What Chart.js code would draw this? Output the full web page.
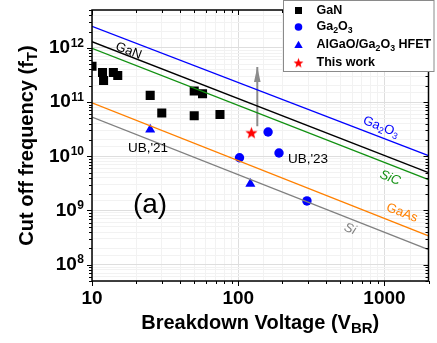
<!DOCTYPE html>
<html>
<head>
<meta charset="utf-8">
<script src="https://cdn.jsdelivr.net/npm/chart.js@4"></script>
<style>html,body{margin:0;padding:0;background:#fff;}</style>
</head>
<body>
<canvas id="fom" width="437" height="343"></canvas>
<script>
// breakdown voltage (V) / cut off frequency (Hz)
var gan_v=[10,11.8,12,14,15,25,30,50,57,50,75];
var gan_f=[4.6e11,3.5e11,2.5e11,3.5e11,3.1e11,1.33e11,6.3e10,1.6e11,1.43e11,5.6e10,5.9e10];
var ga2o3_v=[160,102,190,295];
var ga2o3_f=[2.8e10,9.4e9,1.15e10,1.5e9];
var hfet_v=[25,121];
var hfet_f=[3.1e10,3.1e9];
var this_v=[123];
var this_f=[2.7e10];
var arrow_v=[135,135];
var arrow_f=[3.6e10,4.45e11];
// material limit lines, values at 10 V and 2000 V
var limit_v=[10,2000];
var lim_ga2o3=[2.5e12,1.03e10];
var lim_gan=[1.3e12,5e9];
var lim_sic=[9.8e11,3.7e9];
var lim_gaas=[9.7e10,3.4e8];
var lim_si=[5.3e10,1.9e8];
var x_ticks=[10,100,1000];
var y_exps=[8,9,10,11,12];

var FAM='"Liberation Sans", Arial, Helvetica, sans-serif';

function pts(xs,ys){ return xs.map(function(x,i){ return {x:x,y:ys[i]}; }); }

function makeStar(r){
  var c=document.createElement('canvas');
  var s=Math.ceil(r*2+2);
  c.width=s; c.height=s;
  var g=c.getContext('2d');
  g.fillStyle='#ff0000';
  g.beginPath();
  for(var i=0;i<10;i++){
    var rr=(i%2)?r*0.42:r;
    var a=-Math.PI/2+i*Math.PI/5;
    g.lineTo(s/2+rr*Math.cos(a), s/2+rr*Math.sin(a)+r*0.05);
  }
  g.closePath(); g.fill();
  return c;
}
var star_big=makeStar(6.4);
var star_small=makeStar(5.2);

// segs: [text, kind] kind: n normal, b subscript, p superscript
function rich(ctx,segs,x,y,size,style,align,subRatio){
  subRatio=subRatio||0.7;
  function f(k){ return style+' '+(k=='n'?size:size*subRatio)+'px '+FAM; }
  var w=0;
  segs.forEach(function(s){ ctx.font=f(s[1]); w+=ctx.measureText(s[0]).width; });
  var cx= align=='center' ? x-w/2 : (align=='right' ? x-w : x);
  ctx.textAlign='left';
  ctx.textBaseline='middle';
  segs.forEach(function(s){
    ctx.font=f(s[1]);
    var dy= s[1]=='b' ? size*0.28 : (s[1]=='p' ? -size*0.26 : 0);
    ctx.fillText(s[0],cx,y+dy);
    cx+=ctx.measureText(s[0]).width;
  });
}

function isDecade(v){ var e=Math.log10(v); return Math.abs(e-Math.round(e))<1e-6; }
function gridColor(c){
  if(!c.tick) return 'transparent';
  return isDecade(c.tick.value) ? '#dedede' : '#f2f2f2';
}

function lineSet(vals,color){
  return {data:pts(limit_v,vals),showLine:true,borderColor:color,borderWidth:1.4,pointRadius:0,clip:0};
}

var decor={
  id:'decor',
  afterDatasetsDraw:function(chart){
    var ctx=chart.ctx, xs=chart.scales.x, ys=chart.scales.y;
    ctx.save();
    // arrow head
    var tx=xs.getPixelForValue(arrow_v[1]), ty=ys.getPixelForValue(arrow_f[1]);
    ctx.fillStyle='#8c8c8c';
    ctx.beginPath(); ctx.moveTo(tx,ty); ctx.lineTo(tx-3.3,ty+15); ctx.lineTo(tx+3.3,ty+15); ctx.closePath(); ctx.fill();

    // line labels, rotated along the lines
    var ang=Math.atan2(ys.getPixelForValue(lim_gan[1])-ys.getPixelForValue(lim_gan[0]),
                       xs.getPixelForValue(limit_v[1])-xs.getPixelForValue(limit_v[0]));
    function lab(segs,x,y,color,style){
      ctx.save(); ctx.translate(x,y); ctx.rotate(ang); ctx.fillStyle=color;
      rich(ctx,segs,0,0,13,style,'center');
      ctx.restore();
    }
    lab([['GaN','n']],128.5,51,'#000','normal');
    lab([['Ga','n'],['2','b'],['O','n'],['3','b']],381,127,'#0000ff','normal');
    lab([['SiC','n']],390,178,'#119111','italic');
    lab([['GaAs','n']],402,213,'#ff8000','normal');
    lab([['Si','n']],350,229,'#808080','italic');

    ctx.fillStyle='#000';
    rich(ctx,[["UB,'21",'n']],148,148,13.5,'normal','center');
    rich(ctx,[["UB,'23",'n']],308,159,13.5,'normal','center');
    rich(ctx,[['(a)','n']],150,205,28,'normal','center');
    ctx.restore();
  },
  afterDraw:function(chart){
    var ctx=chart.ctx, a=chart.chartArea, xs=chart.scales.x, ys=chart.scales.y;
    ctx.save();
    // frame
    ctx.strokeStyle='#000'; ctx.lineWidth=1.5;
    ctx.strokeRect(a.left,a.top,a.right-a.left,a.bottom-a.top);
    ctx.lineWidth=1;
    ctx.beginPath();
    var d,m,v,p,L;
    for(d=1;d<=3;d++) for(m=1;m<=9;m++){
      v=m*Math.pow(10,d); if(v>2000) break;
      p=Math.round(xs.getPixelForValue(v))+0.5; L=(m==1)?5:3;
      ctx.moveTo(p,a.bottom); ctx.lineTo(p,a.bottom+L);
      ctx.moveTo(p,a.top); ctx.lineTo(p,a.top+L);
    }
    for(d=7;d<=12;d++) for(m=1;m<=9;m++){
      v=m*Math.pow(10,d); if(v<5e7||v>5e12) continue;
      p=Math.round(ys.getPixelForValue(v))+0.5; L=(m==1)?5:3;
      ctx.moveTo(a.left,p); ctx.lineTo(a.left-L,p);
      ctx.moveTo(a.right,p); ctx.lineTo(a.right-L,p);
    }
    ctx.stroke();

    // tick labels
    ctx.fillStyle='#000';
    x_ticks.forEach(function(t){
      rich(ctx,[[String(t),'n']],xs.getPixelForValue(t),298.5,19,'bold','center');
    });
    y_exps.forEach(function(e){
      var y=ys.getPixelForValue(Math.pow(10,e));
      ctx.font='bold 12px '+FAM;
      var ew=ctx.measureText(String(e)).width;
      ctx.textAlign='right'; ctx.textBaseline='middle';
      ctx.fillText(String(e),84,y-4.5);
      ctx.font='bold 19px '+FAM;
      ctx.fillText('10',84-ew-0.5,y);
    });

    // axis titles
    rich(ctx,[['Breakdown Voltage (V','n'],['BR','b'],[')','n']],(a.left+a.right)/2,323,20,'bold','center',0.75);
    ctx.save(); ctx.translate(27,(a.top+a.bottom)/2); ctx.rotate(-Math.PI/2);
    rich(ctx,[['Cut off frequency (f','n'],['T','b'],[')','n']],0,0,20,'bold','center',0.75);
    ctx.restore();

    // legend
    ctx.fillStyle='#fff'; ctx.strokeStyle='#8a8a8a'; ctx.lineWidth=1;
    ctx.fillRect(283,0,151,71.5); ctx.strokeRect(283.5,0.5,150.5,71);
    var sx=298.5, tx=316.5;
    var rows=[10.5,27,45,63];
    ctx.fillStyle='#000'; ctx.fillRect(sx-3.5,rows[0]-3.5,7,7);
    ctx.fillStyle='#0000ff';
    ctx.beginPath(); ctx.arc(sx,rows[1],3.8,0,Math.PI*2); ctx.fill();
    ctx.beginPath(); ctx.moveTo(sx,rows[2]-4.3); ctx.lineTo(sx+4.2,rows[2]+3); ctx.lineTo(sx-4.2,rows[2]+3); ctx.closePath(); ctx.fill();
    ctx.drawImage(star_small,sx-star_small.width/2,rows[3]-star_small.height/2);
    ctx.fillStyle='#000';
    rich(ctx,[['GaN','n']],tx,rows[0],12.5,'bold','left');
    rich(ctx,[['Ga','n'],['2','b'],['O','n'],['3','b']],tx,rows[1],12.5,'bold','left');
    rich(ctx,[['AlGaO/Ga','n'],['2','b'],['O','n'],['3','b'],[' HFET','n']],tx,rows[2],12.5,'bold','left');
    rich(ctx,[['This work','n']],tx,rows[3],12.5,'bold','left');
    ctx.restore();
  }
};

var ctx=document.getElementById('fom').getContext('2d');
var fomChart=new Chart(ctx,{
  type:'scatter',
  data:{datasets:[
    lineSet(lim_si,'#808080'),
    lineSet(lim_gaas,'#ff8000'),
    lineSet(lim_sic,'#119111'),
    lineSet(lim_gan,'#000000'),
    lineSet(lim_ga2o3,'#0000ff'),
    {data:pts(arrow_v,arrow_f),showLine:true,borderColor:'#8c8c8c',borderWidth:2,pointRadius:0,clip:0},
    {label:'GaN',data:pts(gan_v,gan_f),pointStyle:'rect',pointRadius:6.4,backgroundColor:'#000',borderWidth:0,clip:0},
    {label:'Ga2O3',data:pts(ga2o3_v,ga2o3_f),pointStyle:'circle',pointRadius:4.7,backgroundColor:'#0000ff',borderWidth:0,clip:0},
    {label:'AlGaO/Ga2O3 HFET',data:pts(hfet_v,hfet_f),pointStyle:'triangle',pointRadius:5.8,backgroundColor:'#0000ff',borderWidth:0,clip:0},
    {label:'This work',data:pts(this_v,this_f),pointStyle:star_big,clip:0}
  ]},
  options:{
    responsive:false,
    animation:false,
    layout:{padding:{top:10,right:8.5,left:0,bottom:0}},
    plugins:{legend:{display:false},tooltip:{enabled:false}},
    scales:{
      x:{type:'logarithmic',min:10,max:2000,
         ticks:{display:false,autoSkip:false},
         grid:{color:gridColor,drawTicks:false,lineWidth:1},
         border:{display:false},
         afterFit:function(s){ s.height=62; }},
      y:{type:'logarithmic',min:5e7,max:5e12,
         ticks:{display:false,autoSkip:false},
         grid:{color:gridColor,drawTicks:false,lineWidth:1},
         border:{display:false},
         afterFit:function(s){ s.width=92; }}
    }
  },
  plugins:[decor]
});
</script>
</body>
</html>
